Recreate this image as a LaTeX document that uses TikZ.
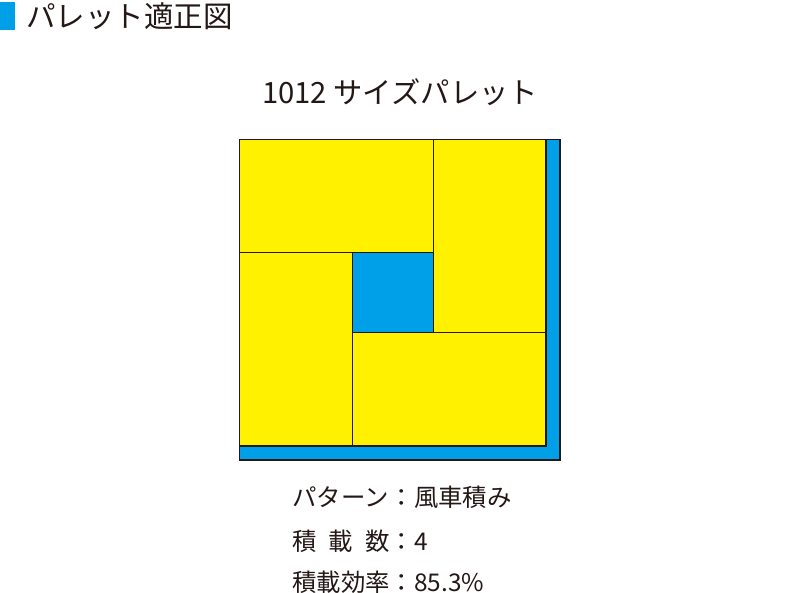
\documentclass[tikz,border=0pt]{standalone}
\usepackage{fontspec}
\setmainfont{Noto Sans CJK JP}
\definecolor{palblue}{HTML}{00A0E9}
\definecolor{palyellow}{HTML}{FFF100}
\definecolor{txt}{HTML}{231815}
\tikzset{
  pallet/.style={fill=palblue, draw=txt, line width=1.5pt},
  box/.style={fill=palyellow, draw=txt, line width=1.3pt},
  gap/.style={fill=palblue, draw=txt, line width=1.3pt},
  title/.style={font=\fontsize{29.5}{32}\selectfont, text=txt, inner sep=0pt, anchor=west},
  heading/.style={font=\fontsize{29.3}{32}\selectfont, text=txt, inner sep=0pt},
  info/.style={font=\fontsize{24.4}{27}\selectfont, text=txt, inner sep=0pt, anchor=west}
}
\newcommand{\lbl}[1]{\makebox[4em][s]{#1}}
\begin{document}
\begin{tikzpicture}[x=1pt,y=-1pt]
\useasboundingbox (0,0) rectangle (800,593);
% title bar
\fill[palblue] (0,2) rectangle (15,30);
\node[title] (title) at (26,16) {パレット適正図};
\node[heading] (head) at (400,92) {1012 サイズパレット};
% pallet
\draw[pallet] (239.5,139.5) rectangle (560,460);
\draw[box] (239.5,139.5) rectangle (433.3,252.7);
\draw[box] (433.3,139.5) rectangle (546,332.7);
\draw[box] (239.5,252.7) rectangle (352.7,446);
\draw[box] (352.7,332.7) rectangle (546,446);
\draw[gap] (352.7,252.7) rectangle (433.3,332.7);
% info
\node[info] (pat) at (292,497) {\lbl{パターン}：風車積み};
\node[info] (num) at (292,541) {\lbl{積\hfill 載\hfill 数}：4};
\node[info] (eff) at (292,582) {\lbl{積載効率}：85.3\%};
\end{tikzpicture}
\end{document}
